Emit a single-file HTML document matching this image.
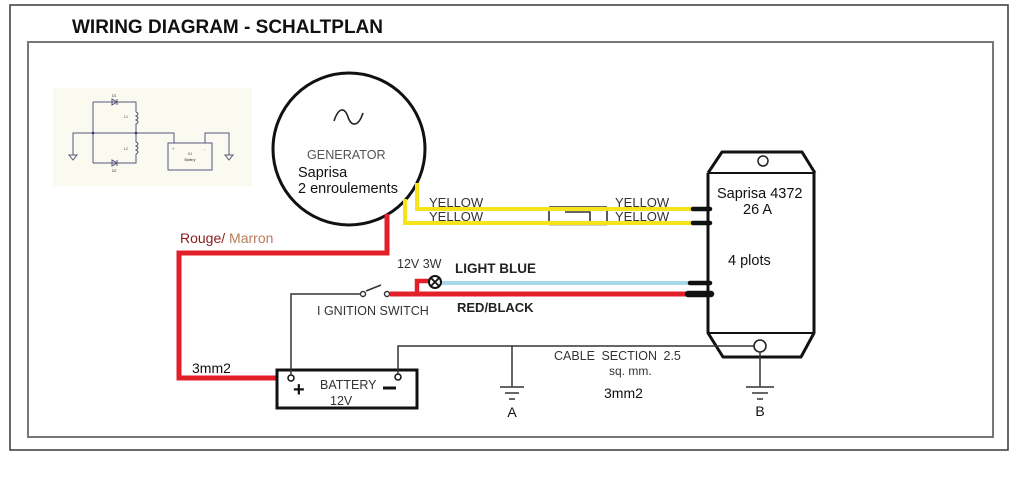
<!DOCTYPE html>
<html><head><meta charset="utf-8"><style>
html,body{margin:0;padding:0;background:#fff;}
svg{display:block;}
text{font-family:"Liberation Sans",Arial,sans-serif;}
</style></head><body>
<svg width="1020" height="495" viewBox="0 0 1020 495" xmlns="http://www.w3.org/2000/svg">
<rect x="0" y="0" width="1020" height="495" fill="#fff"/>
<!-- borders -->
<rect x="10" y="5" width="998" height="445" fill="none" stroke="#444" stroke-width="1.6"/>
<rect x="28" y="42" width="965" height="395" fill="none" stroke="#777" stroke-width="2"/>
<text x="72" y="33" font-size="19" font-weight="bold" fill="#111">WIRING DIAGRAM - SCHALTPLAN</text>

<!-- thumbnail schematic -->
<rect x="53" y="88" width="199" height="98" fill="#fbfaf1"/>
<g stroke="#55557a" stroke-width="1" fill="none">
<path d="M73,155 V133 H136"/>
<path d="M93,102 V163"/>
<path d="M93,102 H136 V112"/>
<path d="M136,112 q4,2 0,4 q4,2 0,4 q4,2 0,4 V133"/>
<path d="M93,163 H136 V154"/>
<path d="M136,154 q4,-2 0,-4 q4,-2 0,-4 q4,-2 0,-4 V133"/>
<path d="M136,133 H174 V143"/>
<rect x="168" y="143" width="44" height="27"/>
<path d="M205,143 V133 H229 V155"/>
<path d="M69,155 H77 L73,160 Z"/>
<path d="M225,155 H233 L229,160 Z"/>
<path d="M112,99 V105 L117,102 Z M117,99 V105"/>
<path d="M112,160 V166 L117,163 Z M117,160 V166"/>
</g>
<circle cx="93" cy="133" r="1.3" fill="#33337a"/>
<circle cx="136" cy="133" r="1.3" fill="#33337a"/>
<text x="190" y="155" font-size="3.5" fill="#333" text-anchor="middle">X1</text>
<text x="190" y="161" font-size="3.5" fill="#333" text-anchor="middle">Battery</text>
<text x="172" y="150" font-size="4" fill="#333">+</text>
<text x="204" y="150" font-size="4" fill="#333">-</text>
<text x="112" y="97" font-size="3.5" fill="#333">D1</text>
<text x="112" y="172" font-size="3.5" fill="#333">D2</text>
<text x="124" y="118" font-size="3.5" fill="#333">L1</text>
<text x="124" y="150" font-size="3.5" fill="#333">L2</text>

<!-- generator -->
<circle cx="349" cy="149" r="76" fill="#fff" stroke="#111" stroke-width="3"/>
<path d="M334,121 C339,106 345,108 348,117 C351,126 358,128 363,113" fill="none" stroke="#222" stroke-width="1.6"/>
<text x="307" y="159" font-size="12.6" fill="#555">GENERATOR</text>
<text x="298" y="177" font-size="14.5" fill="#111">Saprisa</text>
<text x="298" y="193" font-size="14.5" fill="#111">2 enroulements</text>

<!-- fuse -->
<g stroke="#333" stroke-width="1.6" fill="none">
<path d="M549,207 H607"/>
<path d="M549,211 V225 M607,211 V225"/>
<path d="M565,212 H590 V221"/>
<path d="M549,225 H607" stroke="#999" stroke-width="1"/>
</g>

<!-- yellow wires -->
<path d="M417,183 V209 H694" fill="none" stroke="#f6e41a" stroke-width="4"/>
<path d="M405,199 V223 H694" fill="none" stroke="#f6e41a" stroke-width="4"/>
<path d="M693,209 H710 M693,223 H710" stroke="#111" stroke-width="4.5" stroke-linecap="round"/>
<text x="429" y="207" font-size="13" fill="#333">YELLOW</text>
<text x="429" y="221" font-size="13" fill="#333">YELLOW</text>
<text x="615" y="207" font-size="13" fill="#333">YELLOW</text>
<text x="615" y="221" font-size="13" fill="#333">YELLOW</text>

<!-- regulator module -->
<g fill="none" stroke="#111" stroke-width="3" stroke-linejoin="round">
<path d="M708,173 L722,152 H802 L815,173"/>
<path d="M708,173 V333 L723,357 H801 L814,333 V173"/>
</g>
<path d="M708,173 H815 M708,333 H814" stroke="#111" stroke-width="2"/>
<circle cx="763" cy="161" r="5" fill="#fff" stroke="#222" stroke-width="1.5"/>
<circle cx="760" cy="346" r="6" fill="#fff" stroke="#222" stroke-width="1.6"/>
<text x="717" y="198" font-size="14.5" fill="#111">Saprisa 4372</text>
<text x="743" y="214" font-size="14.5" fill="#111">26 A</text>
<text x="728" y="265" font-size="14.5" fill="#111">4 plots</text>

<!-- red main wire -->
<path d="M387,214 V253 H179 V378 H291" fill="none" stroke="#e3202a" stroke-width="5"/>
<text x="180" y="243" font-size="14" fill="#8a1c1c">Rouge/ <tspan fill="#b87a5a">Marron</tspan></text>
<text x="192" y="373" font-size="14" fill="#111">3mm2</text>

<!-- battery -->
<rect x="277" y="370" width="140" height="38" fill="#fff" stroke="#111" stroke-width="3"/>
<circle cx="291" cy="378" r="3" fill="#fff" stroke="#111" stroke-width="1.5"/>
<circle cx="398" cy="377" r="3" fill="#fff" stroke="#111" stroke-width="1.5"/>
<text x="293" y="396" font-size="20" font-weight="bold" fill="#111">+</text>
<path d="M383,388 H396" stroke="#111" stroke-width="3"/>
<text x="320" y="389" font-size="12.5" fill="#333">BATTERY</text>
<text x="330" y="405" font-size="12.5" fill="#333">12V</text>

<!-- thin wires -->
<g fill="none" stroke="#333" stroke-width="1.5">
<path d="M291,375 V294 H361"/>
<path d="M366,291 L381,285"/>
<path d="M398,374 V346 H754"/>
<path d="M512,346 V387"/>
<path d="M500,387 H524 M505,393 H519 M509,399 H515"/>
<path d="M760,352 V387"/>
<path d="M746,387 H774 M752,393 H768 M757,399 H763"/>
</g>
<circle cx="363" cy="294" r="2.5" fill="#fff" stroke="#333" stroke-width="1.4"/>
<circle cx="387" cy="294" r="2.5" fill="#fff" stroke="#333" stroke-width="1.4"/>
<text x="317" y="315" font-size="12.5" fill="#333">I GNITION SWITCH</text>
<text x="512" y="417" font-size="14" fill="#111" text-anchor="middle">A</text>
<text x="760" y="416" font-size="14" fill="#111" text-anchor="middle">B</text>
<text x="554" y="360" font-size="12.5" fill="#333" word-spacing="3">CABLE SECTION 2.5</text>
<text x="609" y="375" font-size="12" fill="#333">sq. mm.</text>
<text x="604" y="398" font-size="14" fill="#111">3mm2</text>

<!-- light blue & red/black -->
<path d="M441,283 H692" stroke="#a6d8e6" stroke-width="4"/>
<path d="M390,294 H692" stroke="#e3202a" stroke-width="5"/>
<path d="M417,294 V281 H430" fill="none" stroke="#e3202a" stroke-width="4.5"/>
<circle cx="435" cy="282" r="6" fill="#fff" stroke="#111" stroke-width="2"/>
<path d="M431,278 L439,286 M439,278 L431,286" stroke="#111" stroke-width="1.8"/>
<path d="M690,283 H710" stroke="#111" stroke-width="4.5" stroke-linecap="round"/>
<path d="M688,294 H711" stroke="#111" stroke-width="6.5" stroke-linecap="round"/>
<text x="397" y="268" font-size="12.5" fill="#333">12V 3W</text>
<text x="455" y="273" font-size="13.5" font-weight="bold" fill="#222">LIGHT BLUE</text>
<text x="457" y="312" font-size="13" font-weight="bold" fill="#222">RED/BLACK</text>
</svg>
</body></html>
